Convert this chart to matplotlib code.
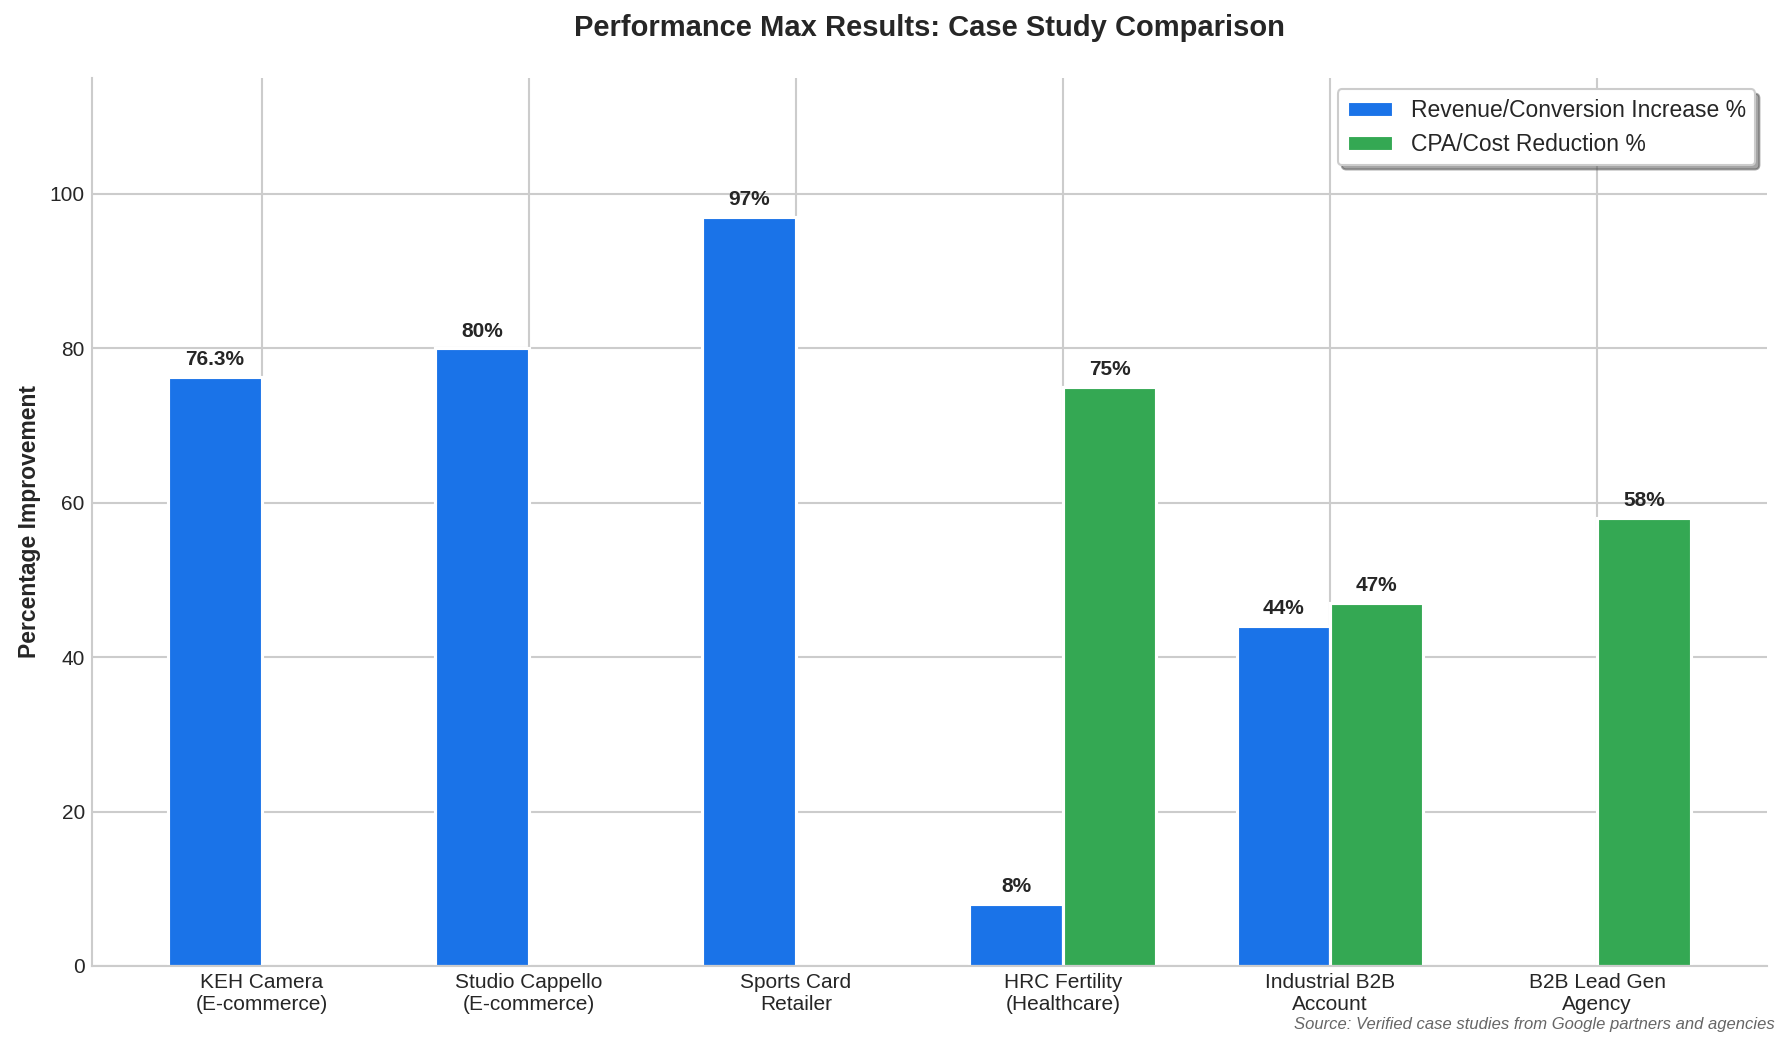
import numpy as np
import matplotlib
matplotlib.use("Agg")
import matplotlib.pyplot as plt

plt.style.use("seaborn-v0_8-whitegrid")
plt.rcParams["font.family"] = ["Liberation Sans", "DejaVu Sans"]

# data
cases = ["KEH Camera\n(E-commerce)", "Studio Cappello\n(E-commerce)", "Sports Card\nRetailer",
         "HRC Fertility\n(Healthcare)", "Industrial B2B\nAccount", "B2B Lead Gen\nAgency"]
revenue_increase = [76.3, 80, 97, 8, 44, 0]
cost_reduction = [0, 0, 0, 75, 47, 58]
revenue_labels = ["76.3%", "80%", "97%", "8%", "44%", ""]
cost_labels = ["", "", "", "75%", "47%", "58%"]

blue = "#1a73e8"
green = "#34a853"
text_col = "#262626"

fig, ax = plt.subplots(figsize=(1789 / 150, 1047 / 150), dpi=150)
fig.subplots_adjust(left=0.0515, right=0.9875, top=0.9255, bottom=0.0774)

x = np.arange(len(cases))
w = 0.35
b1 = ax.bar(x - w / 2, revenue_increase, w, color=blue, edgecolor="white", linewidth=1.5,
            label="Revenue/Conversion Increase %")
b2 = ax.bar(x + w / 2, cost_reduction, w, color=green, edgecolor="white", linewidth=1.5,
            label="CPA/Cost Reduction %")

for bars, labels in [(b1, revenue_labels), (b2, cost_labels)]:
    for bar, lab in zip(bars, labels):
        if lab:
            ax.text(bar.get_x() + bar.get_width() / 2, bar.get_height() + 1, lab,
                    ha="center", va="bottom", fontsize=10, fontweight="bold", color=text_col)

ax.set_xticks(x)
ax.set_xticklabels(cases, fontsize=10, color=text_col)
ax.tick_params(axis="y", labelsize=10, labelcolor=text_col)
ax.set_ylim(0, 115)
ax.set_ylabel("Percentage Improvement", fontsize=11, fontweight="bold", color=text_col)
ax.set_title("Performance Max Results: Case Study Comparison", fontsize=14,
             fontweight="bold", color=text_col, pad=20)

ax.grid(True, color="#cccccc", linewidth=1)
ax.spines["top"].set_visible(False)
ax.spines["right"].set_visible(False)
ax.spines["left"].set_color("#cccccc")
ax.spines["bottom"].set_color("#cccccc")

ax.legend(loc="upper right", fontsize=11, frameon=True, shadow=True, fancybox=True)

fig.text(0.992, 0.014, "Source: Verified case studies from Google partners and agencies",
         ha="right", va="bottom", fontsize=8, style="italic", color="#666666")

fig.savefig("out.png", dpi=150)
